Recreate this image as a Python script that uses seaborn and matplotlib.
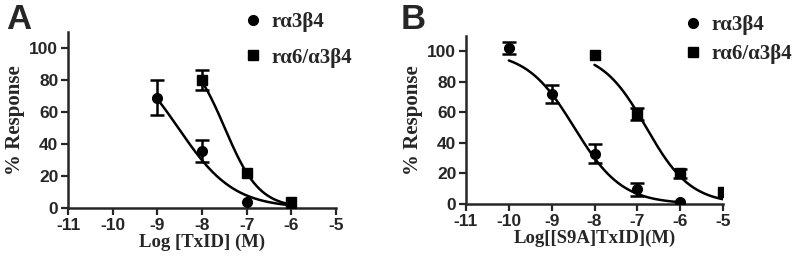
import numpy as np
import pandas as pd
import matplotlib
matplotlib.use("Agg")
import matplotlib.pyplot as plt
from matplotlib.lines import Line2D
import seaborn as sns

# panel A: TxID  (nan = error bar hidden behind the marker)
a_logc_a3b4 = [-9, -8, -7, -6]
a_resp_a3b4 = [69, 35.5, 4, 0]
a_err_a3b4 = [11, 7, np.nan, np.nan]
a_logc_a6 = [-8, -7, -6]
a_resp_a6 = [80, 22, 3.5]
a_err_a6 = [6, np.nan, np.nan]
# panel B: [S9A]TxID
b_logc_a3b4 = [-10, -9, -8, -7, -6]
b_resp_a3b4 = [102, 72, 33, 9.5, 1.5]
b_err_a3b4 = [4, 6, 6, 4, np.nan]
b_logc_a6 = [-8, -7, -6, -5]
b_resp_a6 = [97.5, 59, 20, 8]
b_err_a6 = [np.nan, 4, 3, np.nan]

# fitted dose-response params (logIC50, hill slope)
a_fit_a3b4 = (-8.53, 0.70)
a_fit_a6 = (-7.49, 1.12)
b_fit_a3b4 = (-8.47, 0.78)
b_fit_a6 = (-6.79, 0.835)

labels = ["r\u03b13\u03b24", "r\u03b16/\u03b13\u03b24"]
xticks = [-11, -10, -9, -8, -7, -6, -5]

sns.set_style("ticks")
plt.rcParams["axes.unicode_minus"] = False
plt.rcParams["font.family"] = ["Liberation Sans", "DejaVu Sans"]

serif = ["Liberation Serif", "DejaVu Serif"]


def hill(x, logic50, h):
    return 100.0 / (1 + 10 ** ((x - logic50) * h))


def panel(ax, pts, fits, xlabel):
    for (lc, rs, er, mk), (ic, h) in zip(pts, fits):
        x = np.linspace(min(lc), max(lc), 200)
        curve = pd.DataFrame({"x": x, "y": hill(x, ic, h)})
        sns.lineplot(data=curve, x="x", y="y", ax=ax, color="black", lw=1.8)
        ax.errorbar(lc, rs, yerr=er, fmt=mk, color="black", ms=7,
                    capsize=5, elinewidth=1.8, capthick=1.8, zorder=3)
    ax.set_xlim(-11, -5)
    ax.set_ylim(0, 110)
    ax.set_xticks(xticks)
    ax.set_yticks([0, 20, 40, 60, 80, 100])
    ax.set_xlabel(xlabel, family=serif, fontweight="bold", fontsize=13.5, labelpad=1)
    ax.set_ylabel("% Response", family=serif, fontweight="bold", fontsize=15, labelpad=3)
    for lab in ax.get_xticklabels() + ax.get_yticklabels():
        lab.set_fontweight("bold")
        lab.set_fontsize(12.5)
    ax.tick_params(width=1.6, length=5, pad=2)
    for s in ax.spines.values():
        s.set_linewidth(1.8)
    sns.despine(ax=ax)


fig = plt.figure(figsize=(8, 2.59), dpi=100)
axA = fig.add_axes([68 / 800, 1 - 208 / 259, (336 - 68) / 800, 176 / 259])
axB = fig.add_axes([466 / 800, 1 - 204 / 259, (723 - 466) / 800, 168 / 259])

panel(axA,
      [(a_logc_a3b4, a_resp_a3b4, a_err_a3b4, "o"),
       (a_logc_a6, a_resp_a6, a_err_a6, "s")],
      [a_fit_a3b4, a_fit_a6], "Log [TxID] (M)")
panel(axB,
      [(b_logc_a3b4, b_resp_a3b4, b_err_a3b4, "o"),
       (b_logc_a6, b_resp_a6, b_err_a6, "s")],
      [b_fit_a3b4, b_fit_a6], "Log[[S9A]TxID](M)")

handles = [Line2D([], [], marker="o", ls="none", color="black", ms=7),
           Line2D([], [], marker="s", ls="none", color="black", ms=7)]
for x0, y0, sp in [(246 / 800, 1 - 12 / 259, 0.75), (686 / 800, 1 - 15 / 259, 0.45)]:
    fig.legend(handles, labels, loc="upper left", bbox_to_anchor=(x0, y0),
               frameon=False, handlelength=0.7, handletextpad=0.5,
               labelspacing=sp, borderaxespad=0, borderpad=0,
               prop={"family": serif, "weight": "bold", "size": 15})

fig.text(6 / 800, 1 - 3 / 259, "A", fontsize=25, fontweight="bold", va="top")
fig.text(401 / 800, 1 - 3 / 259, "B", fontsize=25, fontweight="bold", va="top")

fig.savefig("out.png", dpi=100)
